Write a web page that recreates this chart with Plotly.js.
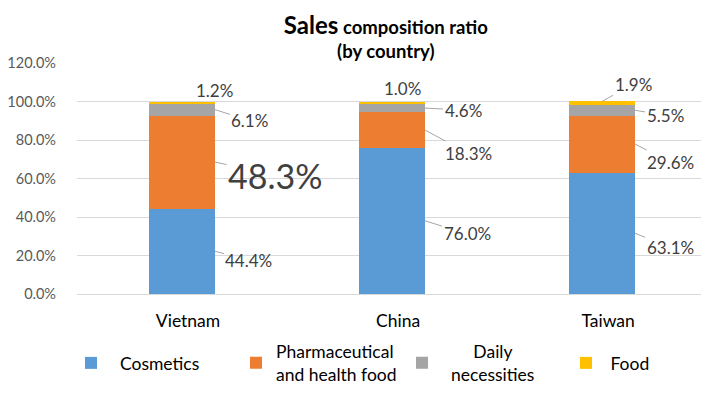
<!DOCTYPE html>
<html><head><meta charset="utf-8">
<script src="https://cdn.plot.ly/plotly-3.0.1.min.js"></script>
<style>html,body{margin:0;padding:0;background:#fff;}#chart{width:701px;height:394px;}</style>
</head><body><div id="chart"></div>
<script>
const countries = ["Vietnam", "China", "Taiwan"];
const seriesNames = ["&nbsp;&nbsp;Cosmetics", "Pharmaceutical<br>and health food", "&nbsp;&nbsp;&nbsp;&nbsp;&nbsp;&nbsp;&nbsp;Daily<br>&nbsp;&nbsp;necessities", "&nbsp;Food"];
const cosmetics = [44.4, 76.0, 63.1];
const pharma = [48.3, 18.3, 29.6];
const daily = [6.1, 4.6, 5.5];
const food = [1.2, 1.0, 1.9];
const colors = ["#5b9bd5", "#ed7d31", "#a5a5a5", "#ffc000"];
const tickVals = [0, 0.2, 0.4, 0.6, 0.8, 1.0, 1.2];

const series = [cosmetics, pharma, daily, food];
const barWidth = 0.314;
const font = "Lato, 'Noto Sans', sans-serif";
const legendIds = ["legend", "legend2", "legend3", "legend4"];
const legendX = [71, 236, 402, 566];

const traces = series.map((vals, i) => ({
  type: "bar",
  name: seriesNames[i],
  legend: legendIds[i],
  x: countries,
  y: vals.map(v => v / 100),
  width: barWidth,
  marker: {color: colors[i]},
  hoverinfo: "skip"
}));

// label offsets (pixels) : [ax, ay] for side labels with leader lines
const sideOffsets = [
  [[34, 9], [60, 13], [35, 11]],
  [[42, 13], [43, 23], [38, 2]],
  [[35, 14], [35, 18], [30, 5]]
];
// top (food) label placement: [xshift, yshift, leader?]
const topOffsets = [[32, 12, false], [10, 14, false], [31, -17, true]];

const annotations = [];
countries.forEach((c, ci) => {
  let cum = 0;
  for (let si = 0; si < 3; si++) {
    const v = series[si][ci];
    const mid = (cum + v / 2) / 100;
    cum += v;
    const big = (ci === 0 && si === 1);
    annotations.push({
      x: ci + barWidth / 2, y: mid, xref: "x", yref: "y",
      text: v.toFixed(1) + "%",
      showarrow: true, arrowhead: 0, arrowwidth: 1, arrowcolor: "#a6a6a6",
      ax: sideOffsets[ci][si][0], ay: sideOffsets[ci][si][1], standoff: 0,
      font: {family: font, size: big ? 34 : 17, color: "#404040"}
    });
  }
  const fv = food[ci];
  const top = (cum + fv) / 100;
  const t = topOffsets[ci];
  if (t[2]) {
    annotations.push({
      x: ci, y: top, xref: "x", yref: "y", text: fv.toFixed(1) + "%",
      showarrow: true, arrowhead: 0, arrowwidth: 1, arrowcolor: "#a6a6a6",
      ax: t[0], ay: t[1], standoff: 0,
      font: {family: font, size: 17, color: "#404040"}
    });
  } else {
    annotations.push({
      x: ci, y: (cum + fv / 2) / 100, xref: "x", yref: "y", text: fv.toFixed(1) + "%",
      showarrow: false, xshift: t[0], yshift: t[1],
      font: {family: font, size: 17, color: "#404040"}
    });
  }
});

annotations.push({
  xref: "paper", yref: "paper", x: (386 - 77) / 624, y: 1.115,
  xanchor: "center", yanchor: "middle",
  text: "<b><span style='font-size:24px'>Sales</span> composition ratio<br>(by country)</b>",
  showarrow: false, bgcolor: "#ffffff", width: 324, height: 54,
  font: {family: font, size: 18.5, color: "#000000"}
});

const layout = {
  width: 701, height: 394,
  margin: {l: 77, r: 0, t: 63, b: 100},
  paper_bgcolor: "#ffffff", plot_bgcolor: "#ffffff",
  barmode: "stack",
  bargap: 0,
  showlegend: true,
  xaxis: {
    type: "category", range: [-0.5, 2.471], showgrid: false, zeroline: false,
    showline: false, ticks: "", ticklabelstandoff: 14, ticklabelshift: 6,
    tickfont: {family: font, size: 17.5, color: "#000000"}
  },
  yaxis: {
    range: [0, 1.2], tickvals: tickVals, tickformat: ".1%",
    showgrid: true, gridcolor: "#d9d9d9", gridwidth: 1, zeroline: true,
    zerolinecolor: "#d9d9d9", zerolinewidth: 1, showline: false, ticks: "",
    ticklabelstandoff: 20,
    tickfont: {family: font, size: 14.5, color: "#595959"}
  },
  annotations: annotations
};
legendIds.forEach((id, i) => {
  layout[id] = {
    orientation: "h", x: (legendX[i] - 77) / 624, xanchor: "left",
    y: -0.2987, yanchor: "middle", bgcolor: "rgba(0,0,0,0)",
    font: {family: font, size: 17.5, color: "#000000"}
  };
});

Plotly.newPlot("chart", traces, layout, {displayModeBar: false, staticPlot: true});
</script>
</body></html>
